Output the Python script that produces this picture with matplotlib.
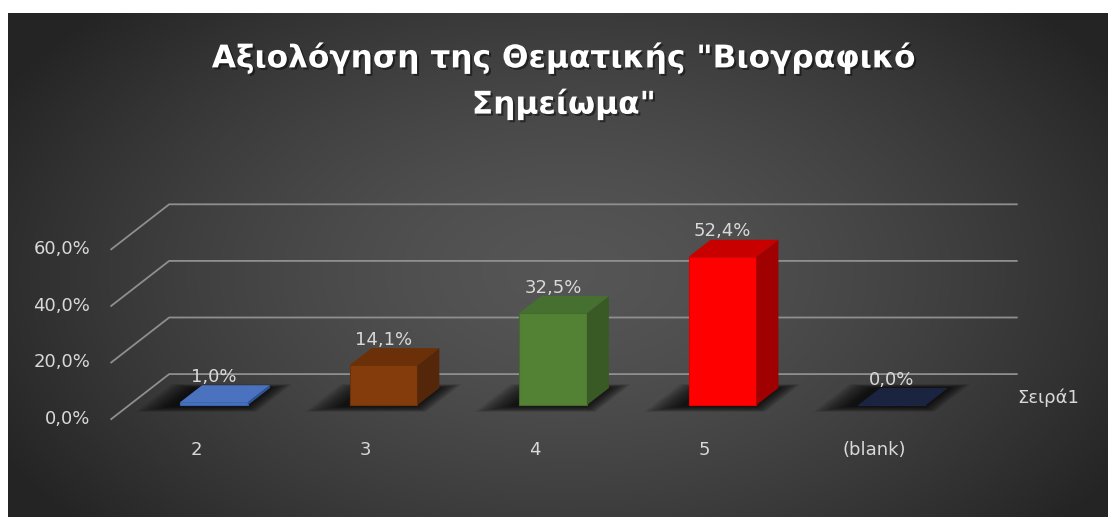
import numpy as np
import matplotlib.pyplot as plt
from matplotlib.patches import Polygon
import matplotlib.patheffects as pe

# dados
categorias = ['2', '3', '4', '5', '(blank)']
valores = [1.0, 14.1, 32.5, 52.4, 0.0]
rotulos = ['1,0%', '14,1%', '32,5%', '52,4%', '0,0%']
ticks_y = [0, 20, 40, 60]
ticks_rotulos = ['0,0%', '20,0%', '40,0%', '60,0%']
serie = 'Σειρά1'
titulo = 'Αξιολόγηση της Θεματικής "Βιογραφικό\nΣημείωμα"'

cores_frente = ['#4472C4', '#843C0C', '#548235', '#FF0000', '#1C2640']
cores_topo = ['#4A72BE', '#6B3008', '#457030', '#C80000', '#1A2440']
cores_lado = ['#2F5597', '#55270A', '#3A5A25', '#A00000', '#141C30']
cores_borda = ['#3A62A8', '#6E320A', '#456B2C', '#E00000', '#1C2640']

plt.rcParams['font.family'] = ['DejaVu Sans']

# projecao obliqua: profundidade z em [0, 1]
DX = 0.342
DY = 15.9
def proj(x, y, z):
    return (x + z * DX, y + z * DY)

fig = plt.figure(figsize=(11.1, 5.17), dpi=100, facecolor='white')

# fundo com gradiente radial
bg = fig.add_axes([8 / 1110, 0, 1100 / 1110, 504 / 517])
yy, xx = np.mgrid[0:504, 0:1100]
r = np.sqrt(((xx - 560) / 640.0) ** 2 + ((yy - 260) / 380.0) ** 2)
r = np.clip(r, 0, 1)
c = 0.335 - (0.335 - 0.145) * r ** 1.5
bg.imshow(np.dstack([c, c, c]), aspect='auto', extent=[0, 1, 0, 1])
bg.axis('off')

ax = fig.add_axes([0, 0, 1, 1])
ax.set_xlim(-1.156, 5.392)
ax.set_ylim(-34.6, 148.1)
ax.axis('off')
ax.patch.set_alpha(0)

n = len(categorias)
x0, x1 = -0.5, n - 0.5
cor_grade = '#8f8f8f'
for t, lab in zip(ticks_y, ticks_rotulos):
    a = proj(x0, t, 0)
    b = proj(x0, t, 1)
    d = proj(x1, t, 1)
    ax.plot([a[0], b[0], d[0]], [a[1], b[1], d[1]], color=cor_grade, lw=1.3, zorder=1)
    ax.annotate(lab, a, xytext=(-15, 0), textcoords='offset points', ha='right', va='center',
                color='#d9d9d9', fontsize=13)

w = 0.2
z0, z1 = 0.31, 0.69
for i, (v, lab) in enumerate(zip(valores, rotulos)):
    # sombra no chao (desfocada)
    for k in range(20):
        e = k * 0.009
        pts = [proj(i - w - 0.04 - e, 0, z0 - 0.03 - e * 0.7), proj(i + w + e * 0.6, 0, z0 - 0.03 - e * 0.7),
               proj(i + w + e * 0.6, 0, z1 + e * 0.5), proj(i - w - 0.04 - e, 0, z1 + e * 0.5)]
        ax.add_patch(Polygon(pts, closed=True, facecolor='black', edgecolor='none',
                             alpha=0.05, zorder=2))
    # face frontal
    fx, fy = proj(i, 0, z0)
    ax.bar(fx, v, width=2 * w, bottom=fy, color=cores_frente[i], edgecolor=cores_borda[i],
           linewidth=0.8, zorder=3)
    # face lateral
    lado = [proj(i + w, 0, z0), proj(i + w, v, z0), proj(i + w, v, z1), proj(i + w, 0, z1)]
    ax.add_patch(Polygon(lado, closed=True, facecolor=cores_lado[i], edgecolor='none', zorder=3))
    # topo
    topo = [proj(i - w, v, z0), proj(i + w, v, z0), proj(i + w, v, z1), proj(i - w, v, z1)]
    ax.add_patch(Polygon(topo, closed=True, facecolor=cores_topo[i], edgecolor='none', zorder=4))
    # rotulo de dados
    lx = proj(i, v, z0)[0]
    ly = proj(i, v, z1)[1]
    ax.annotate(lab, (lx, ly), xytext=(0, 6), textcoords='offset points', ha='center',
                va='center', color='#d9d9d9', fontsize=13, zorder=5)
    # rotulo da categoria
    ax.text(i, -11, categorias[i], ha='center', va='center', color='#d9d9d9', fontsize=13)

ax.text(5.03, 7.4, serie, ha='center', va='center', color='#d9d9d9', fontsize=13)

fig.text(564 / 1110, 1 - 81 / 517, titulo, ha='center', va='center', color='white',
         fontsize=22.5, fontweight='bold', linespacing=1.48,
         path_effects=[pe.withSimplePatchShadow(offset=(1.5, -1.5), shadow_rgbFace='black', alpha=0.45)])

fig.savefig('out.png', dpi=100, facecolor='white')
